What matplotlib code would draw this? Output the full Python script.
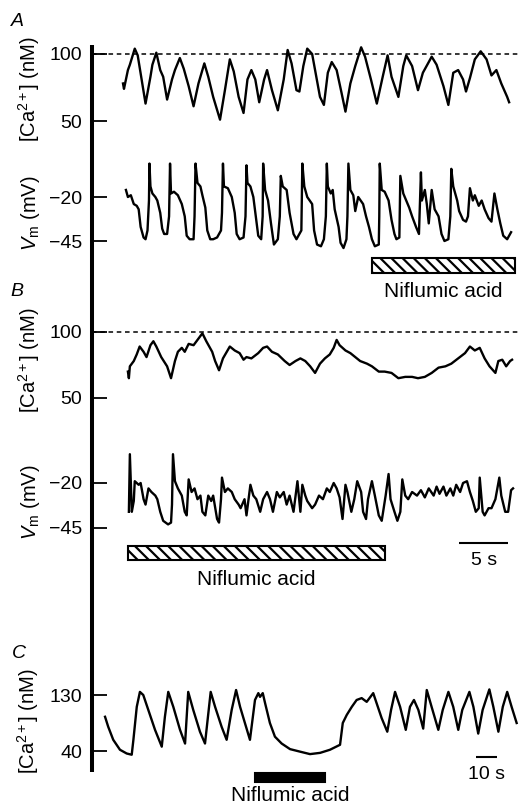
import matplotlib
matplotlib.use("Agg")
import matplotlib.pyplot as plt
import matplotlib.transforms as mtransforms
from matplotlib.patches import Rectangle
from matplotlib.lines import Line2D

plt.rcParams['font.family'] = ['Liberation Sans', 'DejaVu Sans']
plt.rcParams['mathtext.fontset'] = 'custom'
plt.rcParams['mathtext.rm'] = 'Liberation Sans'
plt.rcParams['mathtext.it'] = 'Liberation Sans:italic'
plt.rcParams['hatch.linewidth'] = 1.6

# ---- panel A : [Ca2+]i (nM) and Vm (mV) vs time (s) ----
ca_a_t = [0.0, 0.1, 0.5, 0.7, 1.2, 1.5, 1.9, 2.3, 2.8, 3.0,
          3.4, 3.8, 4.1, 4.5, 5.0, 5.3, 5.8, 6.2, 6.7, 7.2,
          7.7, 8.3, 8.7, 9.2, 9.9, 10.4, 10.9, 11.3, 11.8, 12.3,
          12.7, 13.1, 13.5, 13.9, 14.4, 14.7, 15.2, 15.8, 16.4, 16.8,
          17.2, 17.7, 18.0, 18.4, 18.8, 19.3, 19.6, 20.1, 20.5, 20.9,
          21.3, 21.8, 22.3, 22.7, 23.2, 23.7, 24.3, 24.7, 25.3, 25.9,
          26.5, 27.0, 27.4, 28.1, 28.6, 28.9, 29.5, 30.1, 30.6, 31.5,
          32.0, 32.7, 33.2, 33.7, 34.2, 34.7, 35.0, 35.4, 35.9, 36.5,
          37.1, 37.6, 38.1, 38.6, 39.2, 39.4]
ca_a_v = [78, 74, 88, 92, 104, 99, 81, 63, 83, 92,
          101, 88, 83, 66, 81, 88, 97, 89, 76, 61,
          78, 93, 83, 68, 51, 73, 96, 87, 68, 56,
          81, 88, 81, 64, 81, 88, 73, 58, 81, 103,
          93, 73, 72, 91, 104, 100, 88, 68, 62, 86,
          94, 88, 71, 57, 78, 91, 105, 98, 81, 63,
          83, 99, 83, 68, 91, 99, 91, 73, 86, 98,
          92, 76, 62, 86, 88, 81, 72, 82, 96, 102,
          96, 84, 88, 78, 68, 64]

vm_a_t = [0.3, 0.5, 0.8, 1.1, 1.4, 1.6, 1.8, 2.1, 2.3, 2.5,
          2.65, 2.7, 2.8, 3.0, 3.3, 3.5, 3.8, 4.0, 4.2, 4.5,
          4.7, 4.8, 4.9, 5.2, 5.6, 6.0, 6.3, 6.5, 6.8, 7.2,
          7.3, 7.4, 7.6, 7.9, 8.1, 8.4, 8.6, 8.9, 9.2, 9.6,
          10.0, 10.1, 10.2, 10.3, 10.7, 11.1, 11.4, 11.6, 11.9, 12.3,
          12.5, 12.6, 12.7, 13.0, 13.3, 13.5, 13.8, 14.1, 14.25, 14.3,
          14.5, 14.8, 15.1, 15.4, 15.8, 16.0, 16.1, 16.3, 16.7, 17.0,
          17.4, 17.7, 18.2, 18.3, 18.5, 18.8, 19.3, 19.5, 19.8, 20.2,
          20.5, 20.7, 20.8, 20.9, 21.2, 21.4, 21.6, 22.0, 22.2, 22.5,
          22.8, 22.9, 23.0, 23.2, 23.5, 23.7, 24.0, 24.5, 24.8, 25.1,
          25.4, 25.7, 26.1, 26.15, 26.2, 26.4, 26.7, 27.1, 27.4, 27.7,
          27.9, 28.2, 28.3, 28.6, 28.9, 29.2, 29.5, 29.9, 30.2, 30.4,
          30.5, 30.8, 31.0, 31.2, 31.5, 31.8, 32.2, 32.5, 32.8, 33.2,
          33.4, 33.5, 33.7, 34.1, 34.3, 34.7, 35.0, 35.2, 35.4, 35.7,
          35.9, 36.3, 36.6, 36.9, 37.3, 37.6, 37.9, 38.2, 38.5, 38.8,
          39.2, 39.6]
vm_a_v = [-16, -20, -19, -24, -25, -27, -37, -43, -44, -39,
          -22, -1, -14, -18, -20, -22, -29, -38, -41, -41,
          -31, -1, -18, -17, -19, -24, -31, -42, -44, -44,
          -31, -1, -12, -14, -19, -26, -39, -44, -44, -43,
          -39, -29, -1, -14, -15, -20, -29, -41, -44, -43,
          -31, -2, -12, -14, -20, -29, -42, -44, -31, -1,
          -16, -22, -35, -47, -44, -31, -8, -14, -16, -29,
          -41, -44, -39, -1, -14, -20, -24, -39, -47, -48,
          -44, -31, -1, -14, -18, -16, -27, -37, -46, -49,
          -44, -31, -1, -16, -19, -28, -20, -24, -31, -37,
          -44, -48, -47, -31, -1, -16, -17, -22, -33, -41,
          -44, -43, -8, -18, -22, -26, -31, -37, -41, -6,
          -22, -16, -24, -35, -16, -27, -31, -41, -45, -44,
          -31, -4, -14, -22, -28, -33, -34, -31, -15, -22,
          -19, -25, -22, -27, -32, -34, -18, -27, -35, -42,
          -44, -40]

# ---- panel B ----
ca_b_t = [0.5, 0.6, 0.7, 1.1, 1.4, 1.7, 2.1, 2.4, 2.8, 3.1,
          3.4, 3.9, 4.5, 4.9, 5.3, 5.6, 6.0, 6.3, 6.7, 7.2,
          7.6, 8.1, 8.5, 9.1, 9.4, 9.8, 10.2, 10.9, 11.4, 11.9,
          12.3, 12.6, 13.1, 13.8, 14.3, 14.7, 15.2, 15.8, 16.5, 17.0,
          17.6, 18.1, 18.6, 19.1, 19.6, 20.1, 20.6, 21.1, 21.5, 21.8,
          22.1, 22.7, 23.2, 23.7, 24.2, 24.9, 25.4, 26.1, 26.7, 27.4,
          28.1, 28.8, 29.5, 30.1, 30.8, 31.5, 32.2, 32.9, 33.5, 34.2,
          34.9, 35.4, 35.9, 36.4, 36.9, 37.4, 38.0, 38.3, 38.7, 39.1,
          39.5, 39.7]
ca_b_v = [70, 65, 74, 78, 83, 89, 85, 81, 90, 93,
          89, 81, 74, 65, 78, 85, 88, 85, 91, 90,
          94, 99, 93, 85, 78, 71, 80, 89, 86, 84,
          79, 81, 80, 84, 88, 89, 85, 83, 78, 75,
          78, 80, 78, 74, 69, 76, 80, 83, 88, 94,
          90, 86, 84, 81, 78, 76, 74, 70, 70, 69,
          65, 66, 66, 65, 66, 69, 73, 74, 76, 80,
          84, 89, 86, 88, 80, 74, 69, 78, 79, 74,
          78, 79]

vm_b_t = [0.6, 0.7, 0.9, 1.1, 1.2, 1.6, 1.8, 2.1, 2.3, 2.6,
          2.9, 3.3, 3.5, 3.8, 4.1, 4.6, 4.9, 5.0, 5.1, 5.3,
          5.6, 6.0, 6.3, 6.5, 6.7, 7.0, 7.3, 7.6, 7.9, 8.1,
          8.4, 8.7, 9.0, 9.2, 9.6, 9.8, 10.0, 10.1, 10.4, 10.7,
          11.1, 11.4, 11.8, 12.0, 12.4, 12.6, 13.0, 13.3, 13.6, 14.0,
          14.3, 14.7, 15.0, 15.3, 15.7, 16.0, 16.4, 16.7, 17.0, 17.4,
          17.8, 18.1, 18.3, 18.6, 18.8, 19.3, 19.6, 20.0, 20.4, 20.8,
          21.1, 21.5, 21.8, 22.1, 22.4, 22.7, 22.9, 23.3, 23.6, 23.9,
          24.3, 24.5, 24.8, 25.0, 25.4, 25.7, 26.1, 26.4, 26.8, 27.1,
          27.3, 27.7, 28.0, 28.3, 28.5, 28.8, 29.1, 29.5, 30.0, 30.4,
          30.8, 31.2, 31.7, 32.0, 32.3, 32.7, 33.0, 33.4, 33.7, 34.0,
          34.4, 34.7, 35.1, 35.4, 35.7, 36.0, 36.3, 36.4, 36.7, 36.9,
          37.3, 37.6, 38.0, 38.4, 38.6, 39.0, 39.3, 39.6, 39.8]
vm_b_v = [-36, -4, -36, -30, -19, -21, -20, -29, -32, -23,
          -25, -27, -29, -36, -41, -43, -42, -32, -4, -19,
          -23, -27, -36, -38, -18, -25, -23, -29, -27, -36,
          -38, -27, -30, -27, -40, -42, -29, -17, -25, -23,
          -25, -29, -32, -34, -29, -38, -21, -27, -29, -36,
          -29, -25, -29, -36, -25, -28, -25, -32, -27, -36,
          -19, -36, -21, -27, -30, -34, -32, -27, -29, -23,
          -25, -20, -23, -28, -40, -21, -25, -36, -29, -19,
          -25, -36, -40, -29, -19, -27, -38, -41, -27, -15,
          -29, -36, -41, -36, -18, -27, -29, -25, -27, -24,
          -28, -23, -27, -22, -26, -22, -27, -23, -27, -21,
          -25, -20, -19, -25, -30, -36, -34, -17, -36, -38,
          -34, -34, -29, -17, -27, -36, -36, -24, -23]

# ---- panel C ----
ca_c_t = [0.5, 2.0, 4.4, 7.6, 10.8, 13.2, 14.0, 15.6, 17.1, 18.7,
          21.1, 24.3, 27.5, 29.0, 30.6, 33.0, 36.2, 38.6, 40.1, 42.5,
          45.7, 48.1, 50.8, 52.9, 56.0, 58.4, 60.8, 62.9, 64.8, 67.1,
          69.5, 71.9, 73.5, 74.3, 75.6, 76.7, 79.0, 81.4, 84.6, 88.6,
          93.3, 98.1, 102.9, 107.6, 112.4, 113.7, 115.6, 118.0, 120.3, 122.7,
          125.1, 128.2, 130.6, 132.2, 134.9, 136.7, 138.6, 141.0, 143.7, 145.7,
          147.6, 149.7, 152.0, 153.7, 156.0, 159.2, 161.3, 164.0, 166.3, 168.7,
          170.6, 174.0, 175.9, 178.2, 180.3, 183.5, 185.4, 187.8, 189.9, 192.0,
          194.1, 196.5]
ca_c_v = [95, 79, 58, 42, 36, 34, 58, 111, 135, 130,
          106, 74, 47, 95, 135, 111, 74, 52, 135, 106,
          71, 52, 135, 111, 79, 58, 106, 138, 111, 85,
          58, 122, 133, 127, 133, 117, 85, 63, 52, 43,
          39, 35, 37, 42, 50, 85, 98, 111, 122, 125,
          119, 133, 109, 93, 71, 106, 135, 111, 74, 111,
          122, 106, 76, 138, 111, 74, 106, 135, 111, 74,
          106, 135, 111, 68, 106, 139, 111, 71, 111, 135,
          111, 85]

# drug applications and scale bars (s)
nif_a = (25.4, 40.0)
nif_b = (0.5, 26.7)
nif_c = (71.9, 105.2)
scale_b = (34.3, 39.3)
scale_c = (177.0, 187.0)

W, H = 519, 807
SPINE_X = 92

fig = plt.figure(figsize=(W / 100, H / 100), dpi=100)


def fy(y):
    return 1 - y / H


def trace_axes(top, bottom, x0, px_per_s, ycal, ticks):
    (v1, y1), (v2, y2) = ycal
    k = (y2 - y1) / (v1 - v2)
    ax = fig.add_axes([SPINE_X / W, fy(bottom), (W - SPINE_X) / W, (bottom - top) / H])
    ax.set_xlim((SPINE_X - x0) / px_per_s, (W - x0) / px_per_s)
    ax.set_ylim(v1 - (bottom - y1) / k, v1 + (y1 - top) / k)
    for s in ax.spines.values():
        s.set_visible(False)
    ax.xaxis.set_visible(False)
    ax.patch.set_visible(False)
    ax.set_yticks(ticks)
    ax.tick_params(axis='y', direction='in', length=10.8, width=1.3,
                   pad=7.2, labelsize=14)
    return ax


def trace(ax, t, v):
    ax.plot(t, v, color='k', lw=1.7, solid_joinstyle='round', clip_on=False)


ax_ca_a = trace_axes(40, 135, 123, 9.8, ((100, 54), (50, 121)), [50, 100])
ax_vm_a = trace_axes(155, 250, 123, 9.8, ((-20, 197), (-45, 241)), [-45, -20])
ax_ca_b = trace_axes(315, 400, 123, 9.8, ((100, 332), (50, 398)), [50, 100])
ax_vm_b = trace_axes(440, 535, 123, 9.8, ((-20, 483), (-45, 528)), [-45, -20])
ax_ca_c = trace_axes(680, 765, 104, 2.1, ((130, 695), (40, 751)), [40, 130])

trace(ax_ca_a, ca_a_t, ca_a_v)
trace(ax_vm_a, vm_a_t, vm_a_v)
trace(ax_ca_b, ca_b_t, ca_b_v)
trace(ax_vm_b, vm_b_t, vm_b_v)
trace(ax_ca_c, ca_c_t, ca_c_v)

for ax in (ax_ca_a, ax_ca_b):
    ax.axhline(100, color='k', lw=1.1, ls=(0, (3, 2.4)))

# common vertical axis line
fig.add_artist(Line2D([SPINE_X / W] * 2, [fy(45), fy(772)], color='k', lw=2.9,
                      solid_capstyle='butt'))


def drug_bar(ax, span, top, bottom, text_y, solid=False):
    tr = mtransforms.blended_transform_factory(ax.transData, fig.transFigure)
    ax.add_patch(Rectangle((span[0], fy(bottom)), span[1] - span[0], (bottom - top) / H,
                           transform=tr, facecolor='k' if solid else 'white',
                           edgecolor='k', hatch=None if solid else '\\\\\\',
                           lw=1.5, clip_on=False))
    ax.text((span[0] + span[1]) / 2, fy(text_y), 'Niflumic acid', transform=tr,
            ha='center', va='baseline', fontsize=15)


def scale_bar(ax, span, y, text_y, label):
    tr = mtransforms.blended_transform_factory(ax.transData, fig.transFigure)
    ax.plot(span, [fy(y)] * 2, color='k', lw=1.5, transform=tr, clip_on=False,
            solid_capstyle='butt')
    ax.text((span[0] + span[1]) / 2, fy(text_y), label, transform=tr,
            ha='center', va='baseline', fontsize=14)


drug_bar(ax_vm_a, nif_a, 258, 273, 297)
drug_bar(ax_vm_b, nif_b, 546, 560, 585)
drug_bar(ax_ca_c, nif_c, 773, 782, 801, solid=True)
scale_bar(ax_vm_b, scale_b, 543, 565, '5 s')
scale_bar(ax_ca_c, scale_c, 757, 779, '10 s')

ca_label = r'[Ca$^{2+}$] (nM)'
vm_label = r'$V_{\mathrm{m}}$ (mV)'
for x, y, s in [(29, 89, ca_label), (31, 213, vm_label),
                (29, 360, ca_label), (31, 502, vm_label),
                (28, 721, ca_label)]:
    fig.text(x / W, fy(y), s, rotation=90, ha='center', va='center', fontsize=14.5)

for x, y, s in [(17, 21, 'A'), (17, 291, 'B'), (19, 654, 'C')]:
    fig.text(x / W, fy(y), s, ha='center', va='center', fontsize=14, style='italic')

fig.savefig('out.png', dpi=100)
